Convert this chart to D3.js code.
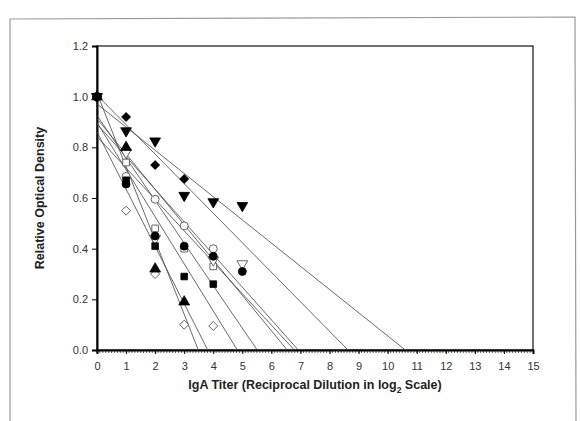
<!DOCTYPE html>
<html>
<head>
<meta charset="utf-8">
<script src="https://cdn.jsdelivr.net/npm/d3@7"></script>
<style>
  body { margin: 0; background: #fff; }
  text { font-family: "Liberation Sans", Arial, sans-serif; }
</style>
</head>
<body>
<div id="chart"></div>
<script>
// dilution steps (log2)
var titer = [0, 1, 2, 3, 4, 5];

// relative OD per sample, null = not measured
var filledDiamond = [1.00, 0.92, 0.73, 0.675, null, null];
var filledDown    = [1.00, 0.865, 0.825, 0.61, 0.585, 0.57];
var filledUp      = [1.00, 0.80, 0.32, 0.19, null, null];
var openDiamond   = [1.00, 0.55, 0.30, 0.10, 0.095, null];
var filledSquare  = [1.00, 0.67, 0.41, 0.29, 0.26, null];
var openSquare    = [1.00, 0.74, 0.48, 0.40, 0.33, null];
var openCircle    = [1.00, 0.685, 0.595, 0.49, 0.40, null];
var filledCircle  = [1.00, 0.655, 0.45, 0.41, 0.37, 0.31];
var openDown      = [1.00, 0.78, 0.44, null, 0.355, 0.34];

var xTicks = d3.range(0, 16);
var yTicks = [0, 0.2, 0.4, 0.6, 0.8, 1.0, 1.2];

var series = [
  { v: filledDiamond, sym: 'diamond', fill: true },
  { v: filledDown,    sym: 'down',    fill: true },
  { v: filledUp,      sym: 'up',      fill: true },
  { v: openDiamond,   sym: 'diamond', fill: false },
  { v: filledSquare,  sym: 'square',  fill: true },
  { v: openSquare,    sym: 'square',  fill: false },
  { v: openCircle,    sym: 'circle',  fill: false },
  { v: filledCircle,  sym: 'circle',  fill: true },
  { v: openDown,      sym: 'down',    fill: false }
];

var W = 580, H = 421;
var m = { left: 97, top: 46, right: 47, bottom: 71 };
var w = W - m.left - m.right, h = H - m.top - m.bottom;

var svg = d3.select('#chart').append('svg').attr('width', W).attr('height', H);

// scanned figure frame
svg.append('path').attr('d', 'M10,421 L10,19 L575,17 L576,421')
  .attr('fill', 'none').attr('stroke', '#999').attr('stroke-width', 1.2);

var g = svg.append('g').attr('transform', 'translate(' + m.left + ',' + m.top + ')');

var x = d3.scaleLinear().domain([0, 15]).range([0, w]);
var y = d3.scaleLinear().domain([0, 1.2]).range([h, 0]);

// plot box
g.append('rect').attr('width', w).attr('height', h)
  .attr('fill', 'none').attr('stroke', '#111').attr('stroke-width', 1.2);

// minor ticks on x axis
g.append('g').attr('transform', 'translate(0,' + h + ')')
  .selectAll('line').data(d3.range(0, 150)).enter().append('line')
  .attr('x1', function(d) { return x(d / 10); }).attr('x2', function(d) { return x(d / 10); })
  .attr('y1', 0).attr('y2', 3).attr('stroke', '#333').attr('stroke-width', 0.8);

var xAxis = g.append('g').attr('transform', 'translate(0,' + h + ')')
  .call(d3.axisBottom(x).tickValues(xTicks).tickSize(4).tickPadding(8));
xAxis.select('.domain').attr('stroke', '#000').attr('stroke-width', 2);
xAxis.selectAll('text').attr('font-size', 11).attr('fill', '#333');

var yAxis = g.append('g')
  .call(d3.axisLeft(y).tickValues(yTicks).tickFormat(d3.format('.1f')).tickSize(5).tickPadding(4));
yAxis.select('.domain').attr('stroke', '#000').attr('stroke-width', 2);
yAxis.selectAll('text').attr('font-size', 11).attr('fill', '#333');

// regression lines, drawn from x=0 until they hit 0
function fit(v) {
  var pts = titer.map(function(t, i) { return [t, v[i]]; }).filter(function(p) { return p[1] != null; });
  var mx = d3.mean(pts, function(p) { return p[0]; });
  var my = d3.mean(pts, function(p) { return p[1]; });
  var sxy = d3.sum(pts, function(p) { return (p[0] - mx) * (p[1] - my); });
  var sxx = d3.sum(pts, function(p) { return (p[0] - mx) * (p[0] - mx); });
  var b = sxy / sxx;
  return { a: my - b * mx, b: b };
}

series.forEach(function(s) {
  var f = fit(s.v);
  var x0 = -f.a / f.b;
  g.append('line')
    .attr('x1', x(0)).attr('y1', y(f.a))
    .attr('x2', x(x0)).attr('y2', y(0))
    .attr('stroke', '#444').attr('stroke-width', 0.8);
});

var shapes = {
  diamond: { type: d3.symbolSquare, size: 40, rot: 45 },
  square:  { type: d3.symbolSquare, size: 44, rot: 0 },
  circle:  { type: d3.symbolCircle, size: 50, rot: 0 },
  up:      { type: d3.symbolTriangle, size: 50, rot: 0 },
  down:    { type: d3.symbolTriangle, size: 50, rot: 180 }
};

// open markers first so the filled ones sit on top
var drawOrder = series.filter(function(s) { return !s.fill; })
  .concat(series.filter(function(s) { return s.fill; }));

drawOrder.forEach(function(s) {
  var sh = shapes[s.sym];
  var pts = titer.map(function(t, i) { return [t, s.v[i]]; }).filter(function(p) { return p[1] != null; });
  g.selectAll(null).data(pts).enter().append('path')
    .attr('d', d3.symbol().type(sh.type).size(sh.size)())
    .attr('transform', function(p) {
      return 'translate(' + x(p[0]) + ',' + y(p[1]) + ')rotate(' + sh.rot + ')';
    })
    .attr('fill', s.fill ? '#000' : '#fff')
    .attr('stroke', s.fill ? '#000' : '#444')
    .attr('stroke-width', 0.8);
});

g.append('text').attr('x', w / 2).attr('y', h + 39).attr('text-anchor', 'middle')
  .attr('font-size', 12.5).attr('font-weight', 'bold').attr('fill', '#222')
  .text('IgA Titer (Reciprocal Dilution in log')
  .append('tspan').attr('font-size', 8.5).attr('dy', 4).text('2')
  .select(function() { return this.parentNode; })
  .append('tspan').attr('dy', -4).text(' Scale)');

g.append('text').attr('transform', 'translate(-53,' + (h / 2) + ')rotate(-90)')
  .attr('text-anchor', 'middle').attr('font-size', 12.5).attr('font-weight', 'bold').attr('fill', '#222')
  .text('Relative Optical Density');
</script>
</body>
</html>
